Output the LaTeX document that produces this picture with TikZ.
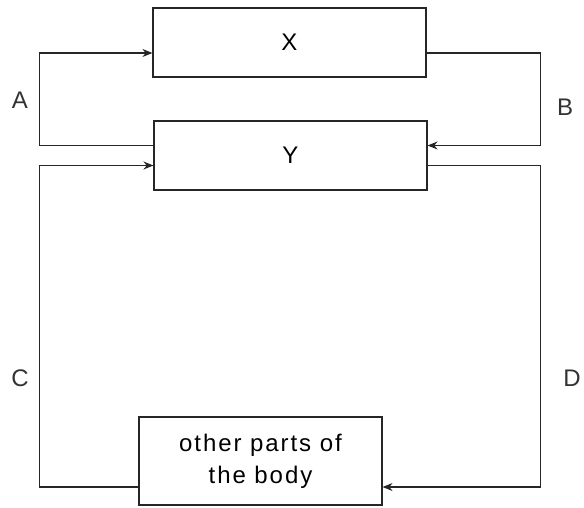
\documentclass[tikz,border=0pt]{standalone}
\usepackage{fontspec}
\setmainfont{Liberation Sans}
\usetikzlibrary{positioning,arrows.meta,calc}

\begin{document}
\begin{tikzpicture}[
    x=1pt, y=-1pt,
    organ/.style={draw=black!85, line width=1.1pt, align=center, inner sep=0pt,
        font=\fontsize{24}{32}\selectfont\addfontfeatures{LetterSpace=8}},
    arrow/.style={-{Stealth[length=10pt,width=8pt]}, draw=black!85, line width=1.1pt},
    letter/.style={font=\fontsize{24}{28}\selectfont, text=black!80}
]
\useasboundingbox (0,0) rectangle (584,508);

\node[organ, minimum width=273pt, minimum height=69pt] (X) at (289.5,42.5) {X};
\node[organ, minimum width=273pt, minimum height=69pt] (Y) at (290.5,155.5) {Y};
\node[organ, minimum width=243pt, minimum height=88pt] (body) at (260.5,461) {other parts of\\the body};

\draw[arrow] ([yshift=10pt]Y.west) -- ++(-114,0) |- ([yshift=-10.5pt]X.west);
\draw[arrow] ([yshift=-10.5pt]X.east) -- ++(114,0) |- ([yshift=10pt]Y.east);
\draw[arrow] ([yshift=-10pt]Y.east) -- ++(113,0) |- ([yshift=-26pt]body.east);
\draw[arrow] ([yshift=-26pt]body.west) -- ++(-99,0) |- ([yshift=-10pt]Y.west);

\node[letter] (A) at (20,100) {A};
\node[letter] (B) at (565,107) {B};
\node[letter] (C) at (20,378) {C};
\node[letter] (D) at (572,378) {D};
\end{tikzpicture}
\end{document}
